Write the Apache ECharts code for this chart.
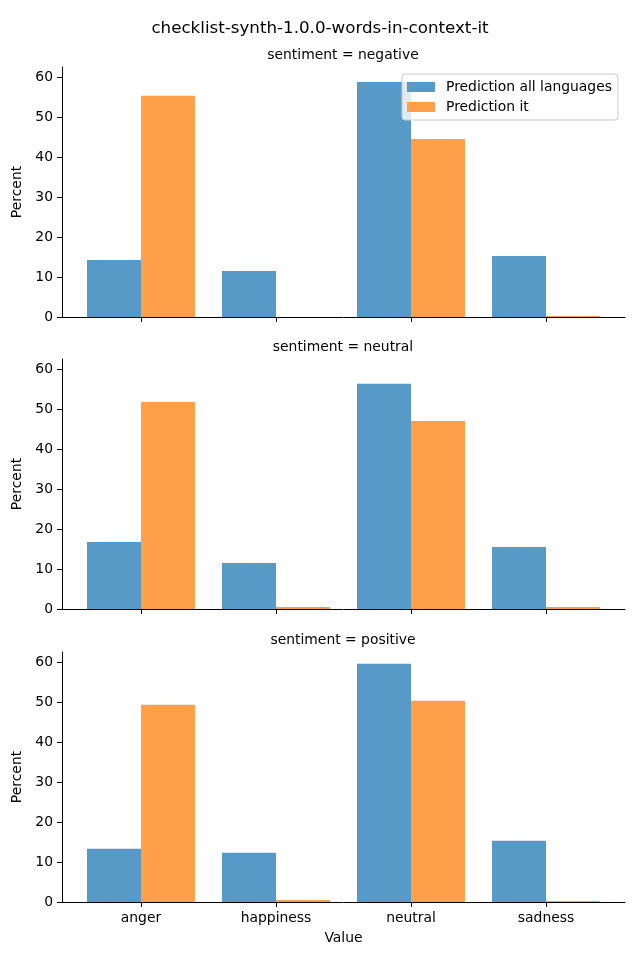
<!DOCTYPE html>
<html>
<head>
<meta charset="utf-8">
<script src="https://cdn.jsdelivr.net/npm/echarts@6/dist/echarts.min.js"></script>
<style>html,body{margin:0;padding:0;background:#fff;}#c{width:640px;height:960px;}</style>
</head>
<body>
<div id="c"></div>
<script>
const title = 'checklist-synth-1.0.0-words-in-context-it';
const categories = ['anger', 'happiness', 'neutral', 'sadness'];
const panels = ['negative', 'neutral', 'positive'];
const seriesNames = ['Prediction all languages', 'Prediction it'];
const yTicks = [0, 10, 20, 30, 40, 50, 60];
// values per panel
const negAll = [14.25, 11.5, 58.75, 15.25];
const negIt = [55.3, 0, 44.5, 0.25];
const neuAll = [16.75, 11.5, 56.3, 15.5];
const neuIt = [51.75, 0.5, 47.0, 0.5];
const posAll = [13.3, 12.3, 59.55, 15.3];
const posIt = [49.3, 0.5, 50.3, 0.25];

const dataAll = [negAll, neuAll, posAll];
const dataIt = [negIt, neuIt, posIt];
const colors = ['#5799c7', '#ff9f4a'];
const FONT = 'DejaVu Sans';
const FS = 13.9;
const catIdx = categories.map((c, j) => j);

const gridTops = [67, 359, 652];
const grids = [], xAxes = [], yAxes = [], series = [], titles = [];
titles.push({text: title, left: 'center', top: 15, textStyle: {fontFamily: FONT, fontSize: 16.7, fontWeight: 'normal', color: '#000'}});
panels.forEach((p, i) => {
  grids.push({left: 62, right: 15, top: gridTops[i], height: 250});
  titles.push({text: 'sentiment = ' + p, left: 338, textAlign: 'center', top: gridTops[i] - 24,
    textStyle: {fontFamily: FONT, fontSize: FS, fontWeight: 'normal', color: '#000'}});
  const last = i === panels.length - 1;
  xAxes.push({type: 'value', gridIndex: i, min: -0.585, max: categories.length - 1 + 0.585,
    axisLine: {show: true, onZero: false, lineStyle: {color: '#000', width: 1}},
    axisTick: {show: true, length: 5, lineStyle: {color: '#000'}, customValues: catIdx},
    axisLabel: {show: last, color: '#000', fontFamily: FONT, fontSize: FS, margin: 9,
      customValues: catIdx, formatter: v => categories[Math.round(v)]},
    name: last ? 'Value' : '', nameLocation: 'middle', nameGap: 29,
    nameTextStyle: {color: '#000', fontFamily: FONT, fontSize: FS},
    splitLine: {show: false}});
  yAxes.push({type: 'value', gridIndex: i, min: 0, max: 62.5,
    axisLine: {show: true, onZero: false, lineStyle: {color: '#000', width: 1}},
    axisTick: {show: true, length: 5, lineStyle: {color: '#000'}, customValues: yTicks},
    axisLabel: {color: '#000', fontFamily: FONT, fontSize: FS, margin: 9, customValues: yTicks},
    splitLine: {show: false},
    name: 'Percent', nameLocation: 'middle', nameGap: 30,
    nameTextStyle: {color: '#000', fontFamily: FONT, fontSize: FS}});
  [dataAll[i], dataIt[i]].forEach((d, k) => {
    series.push({type: 'bar', name: seriesNames[k], xAxisIndex: i, yAxisIndex: i,
      data: d.map((v, j) => [catIdx[j], v]),
      barWidth: 54, barGap: '0%', itemStyle: {color: colors[k]}, emphasis: {disabled: true}});
  });
});

const chart = echarts.init(document.getElementById('c'), null, {renderer: 'canvas'});
chart.setOption({
  animation: false,
  backgroundColor: '#fff',
  title: titles,
  legend: {data: seriesNames, orient: 'vertical', left: 402, top: 74,
    itemWidth: 28, itemHeight: 10, itemGap: 6, padding: [6, 6, 6, 5],
    backgroundColor: 'rgba(255,255,255,0.8)', borderColor: '#ccc', borderWidth: 1, borderRadius: 3,
    textStyle: {fontFamily: FONT, fontSize: FS, color: '#000', padding: [0, 0, 0, 6]}, icon: 'rect'},
  grid: grids, xAxis: xAxes, yAxis: yAxes, series: series
});
</script>
</body>
</html>
